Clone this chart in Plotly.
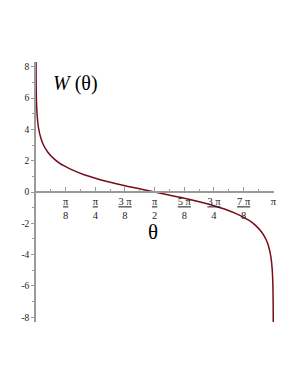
import numpy as np
import plotly.graph_objects as go

# theta values in units of pi
theta_over_pi = [0.00015, 0.0002, 0.0005, 0.001, 0.002, 0.005, 0.01, 0.02, 0.03, 0.05,
                 0.075, 0.1, 0.125, 0.15, 0.2, 0.25, 0.3, 0.375, 0.4, 0.45,
                 0.5, 0.55, 0.6, 0.625, 0.7, 0.75, 0.8, 0.85, 0.875, 0.9,
                 0.925, 0.95, 0.97, 0.98, 0.99, 0.995, 0.998, 0.999, 0.9995, 0.9998, 0.99985]
W_values = [8.36, 8.07, 7.15, 6.46, 5.76, 4.85, 4.15, 3.46, 3.05, 2.54,
            2.13, 1.83, 1.62, 1.43, 1.12, 0.88, 0.67, 0.40, 0.32, 0.16,
            0.0, -0.16, -0.32, -0.40, -0.67, -0.88, -1.12, -1.43, -1.62, -1.83,
            -2.13, -2.54, -3.05, -3.46, -4.15, -4.85, -5.76, -6.46, -7.15, -8.07, -8.36]

x_tick_multiples = [1/8, 1/4, 3/8, 1/2, 5/8, 3/4, 7/8, 1]
x_tick_labels = ["<u>π</u><br>8", "<u>π</u><br>4", "<u>3 π</u><br>8", "<u>π</u><br>2",
                 "<u>5 π</u><br>8", "<u>3 π</u><br>4", "<u>7 π</u><br>8", "π"]
y_tick_vals = [-8, -6, -4, -2, 0, 2, 4, 6, 8]
y_tick_labels = ["-8", "-6", "-4", "-2", "0", "2", "4", "6", "8"]

x = np.array(theta_over_pi) * np.pi
fig = go.Figure()
fig.add_trace(go.Scatter(x=x, y=W_values, mode="lines",
                         line=dict(color="#7a0a1c", width=1.5, shape="spline", smoothing=0.8),
                         hoverinfo="skip", showlegend=False))

axis_col = "#9a9a9a"
xfont = dict(family="Liberation Serif", size=10.5, color="#222")
yfont = dict(family="Liberation Serif", size=9.5, color="#222")
fig.update_layout(
    width=290, height=377,
    margin=dict(l=28, r=24, t=54, b=63, autoexpand=False),
    paper_bgcolor="white", plot_bgcolor="white",
    xaxis=dict(range=[0, np.pi * 1.003], showgrid=False, zeroline=False, automargin=False,
               showline=True, linecolor=axis_col, linewidth=1.5,
               anchor="free", position=0.5,
               tickvals=[m * np.pi for m in x_tick_multiples], ticktext=x_tick_labels,
               ticks="inside", ticklen=4, tickcolor=axis_col, tickwidth=1,
               minor=dict(tickvals=[(2 * k + 1) * np.pi / 16 for k in range(8)],
                          ticks="inside", ticklen=2, tickcolor=axis_col),
               tickfont=xfont),
    yaxis=dict(range=[-8.3, 8.3], showgrid=False, zeroline=False, automargin=False,
               showline=True, linecolor=axis_col, linewidth=1.5,
               tickvals=y_tick_vals, ticktext=y_tick_labels,
               ticks="outside", ticklen=3, tickcolor=axis_col,
               minor=dict(tickvals=[-7, -5, -3, -1, 1, 3, 5, 7],
                          ticks="outside", ticklen=2, tickcolor=axis_col),
               tickfont=yfont),
    annotations=[
        dict(x=0.165 * np.pi, y=6.9, xref="x", yref="y", text="<i>W</i> (θ)",
             showarrow=False, font=dict(family="Liberation Serif", size=20, color="black")),
        dict(x=0.495 * np.pi, y=-2.56, xref="x", yref="y", text="θ",
             showarrow=False, font=dict(family="Liberation Serif", size=21, color="black")),
    ],
)
fig.write_html("out.html")
